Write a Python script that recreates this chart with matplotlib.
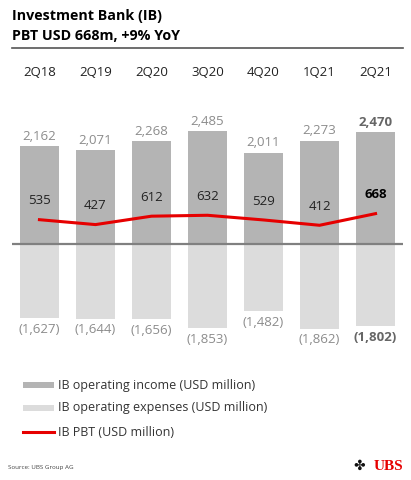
import numpy as np
import matplotlib.pyplot as plt
from matplotlib.patches import Rectangle
from matplotlib.lines import Line2D

plt.rcParams['font.family'] = ['Open Sans', 'DejaVu Sans']

quarters = ["2Q18", "2Q19", "2Q20", "3Q20", "4Q20", "1Q21", "2Q21"]
income = [2162, 2071, 2268, 2485, 2011, 2273, 2470]
expenses = [1627, 1644, 1656, 1853, 1482, 1862, 1802]
pbt = [535, 427, 612, 632, 529, 412, 668]

W, H = 411, 480
fig = plt.figure(figsize=(W / 100, H / 100), dpi=100)


def fx(px):
    return px / W


def fy(py):
    return 1 - py / H


# axes placed in pixel terms
ax = fig.add_axes([fx(12), fy(345), fx(391), 250 / H])
x = np.arange(len(quarters))
ax.set_xlim(-0.49, len(quarters) - 0.51)
ax.set_ylim(-(345 - 244) * 22, (244 - 95) * 22)
ax.axis("off")

inc_col = "#b4b4b4"
exp_col = "#dcdcdc"
red = "#e60000"

ax.bar(x, income, width=0.7, color=inc_col, zorder=1)
ax.bar(x, [-e for e in expenses], width=0.7, color=exp_col, zorder=1)
ax.axhline(0, color="#808080", lw=1.6, zorder=3)
ax.plot(x, pbt, color=red, lw=2.2, zorder=4)

last = len(quarters) - 1
for i in x:
    bold = i == last
    ax.annotate(f"{income[i]:,}", (i, income[i]), xytext=(0, 7), textcoords="offset points",
                ha="center", va="center", fontsize=9.5, color="#666666" if bold else "#8c8c8c",
                fontweight="bold" if bold else "normal")
    ax.annotate(f"({expenses[i]:,})", (i, -expenses[i]), xytext=(0, -8), textcoords="offset points",
                ha="center", va="center", fontsize=9.5, color="#666666" if bold else "#8c8c8c",
                fontweight="bold" if bold else "normal")
    ax.annotate(f"{pbt[i]:,}", (i, pbt[i]), xytext=(0, 13.5), textcoords="offset points",
                ha="center", va="center", fontsize=9.5, color="black" if bold else "#222222",
                fontweight="bold" if bold else "normal")
    ax.text(i, (345 - 72) / 250, quarters[i], transform=ax.get_xaxis_transform(),
            ha="center", va="center", fontsize=9.5, color="#222222")

# title
fig.text(fx(12), fy(16), "Investment Bank (IB)", fontsize=10.3, fontweight="bold", va="center")
fig.text(fx(12), fy(36), "PBT USD 668m, +9% YoY", fontsize=10.3, fontweight="bold", va="center")
fig.add_artist(Line2D([fx(12), fx(403)], [fy(48), fy(48)], color="#555555", lw=1.2))

# legend
labels = ["IB operating income (USD million)", "IB operating expenses (USD million)", "IB PBT (USD million)"]
ys = [385, 408, 432]
fig.add_artist(Rectangle((fx(23), fy(388)), fx(31), 6 / H, color=inc_col, lw=0))
fig.add_artist(Rectangle((fx(23), fy(411)), fx(31), 6 / H, color=exp_col, lw=0))
fig.add_artist(Line2D([fx(23), fx(54)], [fy(432), fy(432)], color=red, lw=2.2))
for lab, yy in zip(labels, ys):
    fig.text(fx(58), fy(yy), lab, fontsize=9, va="center", color="#333333")

fig.text(fx(8), fy(468), "Source: UBS Group AG", fontsize=4.5, va="center", color="#444444")
fig.text(fx(403), fy(466), "UBS", fontsize=11, fontweight="bold", family="Liberation Serif",
         color=red, ha="right", va="center")
fig.text(fx(359), fy(466), "\u2724", fontsize=10, family="DejaVu Sans", color="#111111",
         ha="center", va="center")

fig.savefig("out.png", dpi=100)
